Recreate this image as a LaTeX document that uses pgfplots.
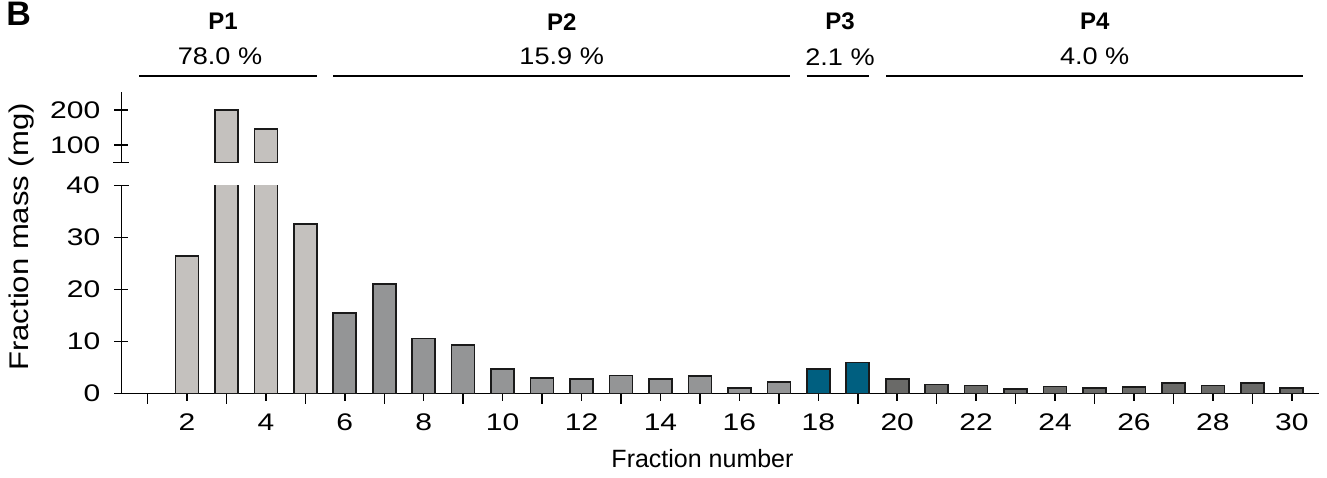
\documentclass[border=0pt]{standalone}
\usepackage{fontspec}
\setmainfont{Liberation Sans}
\newfontfamily\widefont[FakeStretch=1.25]{Liberation Sans}
\newfontfamily\midfont[FakeStretch=1.13]{Liberation Sans}
\newfontfamily\labfont[FakeStretch=1.15]{Liberation Sans}
\usepackage{pgfplots}
\pgfplotsset{compat=1.18}
\definecolor{cP1}{HTML}{C4C1BE}
\definecolor{cP2}{HTML}{949596}
\definecolor{cP3}{HTML}{005F80}
\definecolor{cP4}{HTML}{6A6A68}
\definecolor{edge}{HTML}{1A1A1A}
\pgfplotsset{
  common/.style={
    scale only axis,
    width=598.85pt,
    xmin=0.336, xmax=30.69,
    tick style={line width=0.75pt, black},
    tick align=outside,
    major tick length=7pt,
    tick label style={font=\widefont\fontsize{12}{14}\selectfont},
    yticklabel style={xshift=-3.5pt},
    xticklabel style={yshift=-3pt},
    /pgf/number format/assume math mode=true,
    clip=true,
  },
  mybar/.style={ybar, bar width=11.5pt, draw=edge, line width=0.8pt, fill=#1},
}
\begin{document}
\begin{tikzpicture}
\useasboundingbox (0pt,0pt) rectangle (663.5pt,-238.5pt);
% lower panel
\begin{axis}[common,
  at={(60.65pt,-196.85pt)}, anchor=south west,
  height=104pt,
  ymin=0, ymax=40,
  axis x line=bottom, axis y line=left,
  axis line style={line width=0.75pt,-},
  xtick={2,4,...,30},
  extra x ticks={1,3,...,29},
  extra x tick labels={},
  extra x tick style={tick align=outside, major tick length=5pt},
  ytick={0,10,20,30},
  extra y ticks={40},
  extra y tick labels={40},
  extra y tick style={tick align=center, major tick length=7.5pt},
]
\addplot[mybar=cP1] coordinates {(2,26.5) (3,200) (4,145) (5,32.6)};
\addplot[mybar=cP2] coordinates {(6,15.5) (7,21.1) (8,10.6) (9,9.4) (10,4.8) (11,3.0) (12,2.8) (13,3.5) (14,2.8) (15,3.4) (16,1.1) (17,2.3)};
\addplot[mybar=cP3] coordinates {(18,4.7) (19,6.0)};
\addplot[mybar=cP4] coordinates {(20,2.8) (21,1.8) (22,1.6) (23,0.9) (24,1.35) (25,1.15) (26,1.25) (27,2.1) (28,1.6) (29,2.1) (30,1.05)};
\end{axis}
% upper panel
\begin{axis}[common,
  at={(60.65pt,-81.25pt)}, anchor=south west,
  height=35.35pt,
  ymin=50, ymax=252,
  axis x line=none, axis y line=left,
  axis line style={line width=0.75pt,-},
  xtick=\empty,
  ytick={100,200},
  extra y ticks={50},
  extra y tick labels={},
  extra y tick style={tick align=center, major tick length=8pt},
]
\addplot[mybar=cP1] coordinates {(3,200) (4,145)};
\end{axis}
\begin{scope}[x=0.5pt,y=-0.5pt]
\draw[line width=0.75pt] (139,76) -- (316.7,76);
\draw[line width=0.75pt] (333.3,76) -- (790,76);
\draw[line width=0.75pt] (806.7,76) -- (869.3,76);
\draw[line width=0.75pt] (886,76) -- (1303.3,76);
\node[font=\midfont\fontsize{12}{14}\selectfont] at (220,56.7) {78.0 \%};
\node[font=\midfont\fontsize{12}{14}\selectfont] at (561.7,56.7) {15.9 \%};
\node[font=\midfont\fontsize{12}{14}\selectfont] at (840,56.7) {2.1 \%};
\node[font=\midfont\fontsize{12}{14}\selectfont] at (1094.7,56.7) {4.0 \%};
\node[font=\bfseries\fontsize{12}{14}\selectfont] at (223,21.7) {P1};
\node[font=\bfseries\fontsize{12}{14}\selectfont] at (561.7,21.7) {P2};
\node[font=\bfseries\fontsize{12}{14}\selectfont] at (840,21.7) {P3};
\node[font=\bfseries\fontsize{12}{14}\selectfont] at (1094.7,21.7) {P4};
\node[font=\bfseries\fontsize{17}{19}\selectfont, anchor=north west, inner sep=0pt] at (6,2) {B};
\node[font=\labfont\fontsize{13.5}{15}\selectfont, rotate=90] at (22,237) {Fraction mass (mg)};
\node[font=\fontsize{12.5}{14}\selectfont] at (702.5,459) {Fraction number};
\end{scope}
\end{tikzpicture}
\end{document}
